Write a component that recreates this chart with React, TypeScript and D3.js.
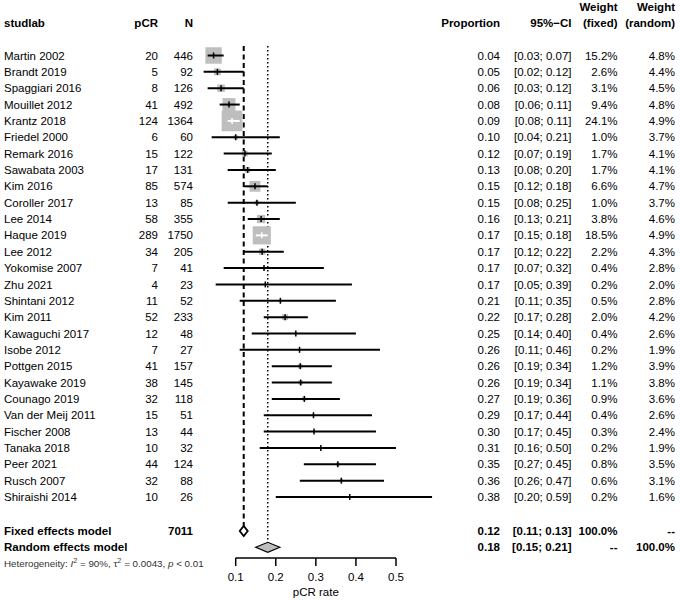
import React from "react";
import * as d3 from "d3";

const studies = ["Martin 2002","Brandt 2019","Spaggiari 2016","Mouillet 2012","Krantz 2018","Friedel 2000","Remark 2016","Sawabata 2003","Kim 2016","Coroller 2017","Lee 2014","Haque 2019","Lee 2012","Yokomise 2007","Zhu 2021","Shintani 2012","Kim 2011","Kawaguchi 2017","Isobe 2012","Pottgen 2015","Kayawake 2019","Counago 2019","Van der Meij 2011","Fischer 2008","Tanaka 2018","Peer 2021","Rusch 2007","Shiraishi 2014"];
const pCR = [20,5,8,41,124,6,15,17,85,13,58,289,34,7,4,11,52,12,7,41,38,32,15,13,10,44,32,10];
const totalN = [446,92,126,492,1364,60,122,131,574,85,355,1750,205,41,23,52,233,48,27,157,145,118,51,44,32,124,88,26];
const proportion = [0.0448,0.0543,0.0635,0.0833,0.0909,0.1000,0.1230,0.1298,0.1481,0.1529,0.1634,0.1651,0.1659,0.1707,0.1739,0.2115,0.2232,0.2500,0.2593,0.2611,0.2621,0.2712,0.2941,0.2955,0.3125,0.3548,0.3636,0.3846];
const ciLower = [0.03,0.02,0.03,0.06,0.08,0.04,0.07,0.08,0.12,0.08,0.13,0.15,0.12,0.07,0.05,0.11,0.17,0.14,0.11,0.19,0.19,0.19,0.17,0.17,0.16,0.27,0.26,0.20];
const ciUpper = [0.07,0.12,0.12,0.11,0.11,0.21,0.19,0.20,0.18,0.25,0.21,0.18,0.22,0.32,0.39,0.35,0.28,0.40,0.46,0.34,0.34,0.36,0.44,0.45,0.50,0.45,0.47,0.59];
const weightFixed = [15.2,2.6,3.1,9.4,24.1,1.0,1.7,1.7,6.6,1.0,3.8,18.5,2.2,0.4,0.2,0.5,2.0,0.4,0.2,1.2,1.1,0.9,0.4,0.3,0.2,0.8,0.6,0.2];
const weightRandom = [4.8,4.4,4.5,4.8,4.9,3.7,4.1,4.1,4.7,3.7,4.6,4.9,4.3,2.8,2.0,2.8,4.2,2.6,1.9,3.9,3.8,3.6,2.6,2.4,1.9,3.5,3.1,1.6];
const fixedModel = { est: 0.12, lo: 0.11, hi: 0.13, n: 7011 };
const randomModel = { est: 0.18, lo: 0.15, hi: 0.21 };
const xTicks = [0.1, 0.2, 0.3, 0.4, 0.5];

const FONT = "'Liberation Sans', Arial, sans-serif";
const FS = 11.5;

export default function App() {
  const x = d3.scaleLinear().domain([0.1, 0.5]).range([235.7, 396]);
  const y = d3.scaleLinear().domain([0, 27]).range([55.5, 497]);
  const yFixed = 531;
  const yRandom = 547.3;
  const yHet = 563;
  const yAxis = 558;
  const maxW = d3.max(weightFixed) as number;
  const boxSize = (w: number) => 20.7 * Math.sqrt(w / maxW);
  const fmt = (v: number) => v.toFixed(2);
  const pct = (v: number) => v.toFixed(1) + "%";
  const bl = 4.1; // baseline offset from centre
  const gray = "#bebebe";

  const colPCR = 158;
  const colN = 193;
  const colProp = 500;
  const colCI = 571.5;
  const colWF = 617.5;
  const colWR = 675;

  return (
    <svg width={680} height={600} style={{ position: "absolute", left: 0, top: 0, background: "#fff" }} fontFamily={FONT} fontSize={FS}>
      {/* header */}
      <g fontWeight="bold" fill="#000">
        <text x={4} y={22.7 + bl}>studlab</text>
        <text x={colPCR} y={22.7 + bl} textAnchor="end">pCR</text>
        <text x={colN} y={22.7 + bl} textAnchor="end">N</text>
        <text x={colProp} y={22.7 + bl} textAnchor="end">Proportion</text>
        <text x={colCI} y={22.7 + bl} textAnchor="end">95%−CI</text>
        <text x={colWF} y={6.5 + bl} textAnchor="end">Weight</text>
        <text x={colWF} y={22.7 + bl} textAnchor="end">(fixed)</text>
        <text x={colWR} y={6.5 + bl} textAnchor="end">Weight</text>
        <text x={colWR} y={22.7 + bl} textAnchor="end">(random)</text>
      </g>

      {/* reference lines */}
      <line x1={x(fixedModel.est)} x2={x(fixedModel.est)} y1={46} y2={yFixed - 5} stroke="#000" strokeWidth={2} strokeDasharray="5,3.5" />
      <line x1={x(randomModel.est)} x2={x(randomModel.est)} y1={46} y2={yRandom - 5} stroke="#000" strokeWidth={1.5} strokeDasharray="1.5,2.5" />

      {/* studies */}
      {studies.map((s, i) => {
        const cy = y(i);
        const side = boxSize(weightFixed[i]);
        const cx = x(proportion[i]);
        const xl = x(ciLower[i]);
        const xh = x(ciUpper[i]);
        const inside = cx - side / 2 <= xl && cx + side / 2 >= xh;
        const lc = inside ? "#fff" : "#000";
        return (
          <g key={s}>
            <text x={4} y={cy + bl}>{s}</text>
            <text x={colPCR} y={cy + bl} textAnchor="end">{pCR[i]}</text>
            <text x={colN} y={cy + bl} textAnchor="end">{totalN[i]}</text>
            <text x={colProp} y={cy + bl} textAnchor="end">{fmt(proportion[i])}</text>
            <text x={colCI} y={cy + bl} textAnchor="end">{`[${fmt(ciLower[i])}; ${fmt(ciUpper[i])}]`}</text>
            <text x={colWF} y={cy + bl} textAnchor="end">{pct(weightFixed[i])}</text>
            <text x={colWR} y={cy + bl} textAnchor="end">{pct(weightRandom[i])}</text>
            <rect x={cx - side / 2} y={cy - side / 2} width={side} height={side} fill={gray} />
            <line x1={xl} x2={xh} y1={cy} y2={cy} stroke={lc} strokeWidth={2} />
            <line x1={cx} x2={cx} y1={cy - 3} y2={cy + 3} stroke={lc} strokeWidth={1.5} />
          </g>
        );
      })}

      {/* fixed model */}
      <g fontWeight="bold">
        <text x={4} y={yFixed + bl}>Fixed effects model</text>
        <text x={colN} y={yFixed + bl} textAnchor="end">{fixedModel.n}</text>
        <text x={colProp} y={yFixed + bl} textAnchor="end">{fmt(fixedModel.est)}</text>
        <text x={colCI} y={yFixed + bl} textAnchor="end">{`[${fmt(fixedModel.lo)}; ${fmt(fixedModel.hi)}]`}</text>
        <text x={colWF} y={yFixed + bl} textAnchor="end">100.0%</text>
        <text x={colWR} y={yFixed + bl} textAnchor="end">--</text>
        <text x={4} y={yRandom + bl}>Random effects model</text>
        <text x={colProp} y={yRandom + bl} textAnchor="end">{fmt(randomModel.est)}</text>
        <text x={colCI} y={yRandom + bl} textAnchor="end">{`[${fmt(randomModel.lo)}; ${fmt(randomModel.hi)}]`}</text>
        <text x={colWF} y={yRandom + bl} textAnchor="end">--</text>
        <text x={colWR} y={yRandom + bl} textAnchor="end">100.0%</text>
      </g>
      <polygon
        points={`${x(fixedModel.lo)},${yFixed} ${x(fixedModel.est)},${yFixed - 5} ${x(fixedModel.hi)},${yFixed} ${x(fixedModel.est)},${yFixed + 5}`}
        fill="#fff" stroke="#000" strokeWidth={1.8} />
      <polygon
        points={`${x(randomModel.lo)},${yRandom} ${x(randomModel.est)},${yRandom - 5} ${x(randomModel.hi)},${yRandom} ${x(randomModel.est)},${yRandom + 5}`}
        fill={gray} stroke="#000" strokeWidth={1.2} />

      {/* heterogeneity */}
      <text x={4} y={yHet + 3.5} fontSize={9.8} fill="#333">
        Heterogeneity: <tspan fontStyle="italic">I</tspan>
        <tspan dy={-3.7} fontSize={7.3}>2</tspan>
        <tspan dy={3.7}> = 90%, τ</tspan>
        <tspan dy={-3.7} fontSize={7.3}>2</tspan>
        <tspan dy={3.7}> = 0.0043, </tspan>
        <tspan fontStyle="italic">p</tspan> &lt; 0.01
      </text>

      {/* axis */}
      <line x1={x(0.1)} x2={x(0.5)} y1={yAxis} y2={yAxis} stroke="#000" strokeWidth={1.5} />
      {xTicks.map((t) => (
        <g key={t}>
          <line x1={x(t)} x2={x(t)} y1={yAxis} y2={yAxis + 8} stroke="#000" strokeWidth={1.5} />
          <text x={x(t)} y={577.3 + bl} textAnchor="middle">{t.toFixed(1)}</text>
        </g>
      ))}
      <text x={(x(0.1) + x(0.5)) / 2} y={591.7 + bl} textAnchor="middle">pCR rate</text>
    </svg>
  );
}
